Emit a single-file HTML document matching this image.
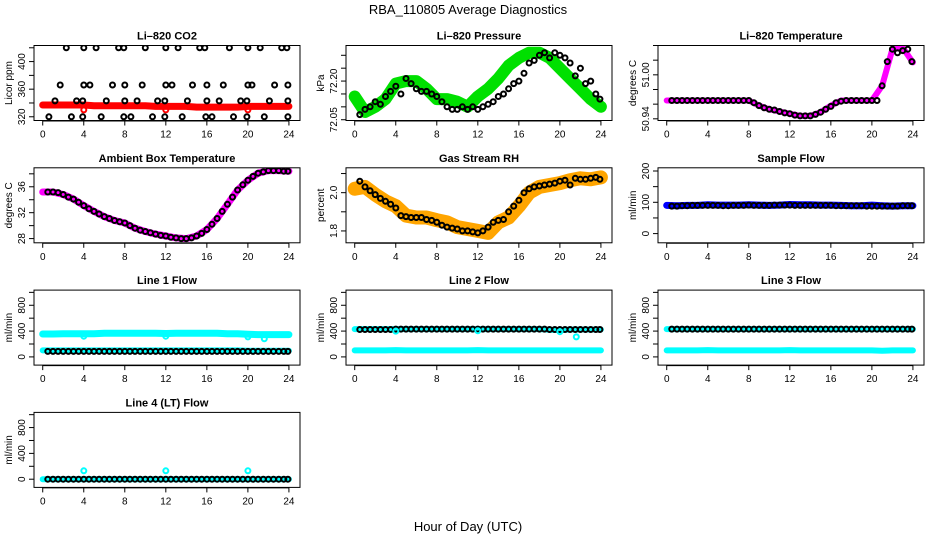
<!DOCTYPE html>
<html><head><meta charset="utf-8"><style>
html,body{margin:0;padding:0;background:#fff}
svg{display:block;font-family:"Liberation Sans",sans-serif}
</style></head><body>
<svg id="c" width="936" height="540" viewBox="0 0 936 540">
<text x="468" y="14" text-anchor="middle" font-size="13">RBA_110805  Average Diagnostics</text>
<text x="468" y="531" text-anchor="middle" font-size="13">Hour of Day (UTC)</text>
</svg>
<script>
// ---- data ----
const hours25=[0,1,2,3,4,5,6,7,8,9,10,11,12,13,14,15,16,17,18,19,20,21,22,23,24];
const hours48=[0.5,1,1.5,2,2.5,3,3.5,4,4.5,5,5.5,6,6.5,7,7.5,8,8.5,9,9.5,10,10.5,11,11.5,12,12.5,13,13.5,14,14.5,15,15.5,16,16.5,17,17.5,18,18.5,19,19.5,20,20.5,21,21.5,22,22.5,23,23.5,23.9];
const co2Band=[337,337,337,337,337,336,336,336,336,336,336,335,335,335,335,334,334,334,334,334,335,335,335,335,335];
const co2BlackHours=[2.3,4,5.2,7.4,7.9,10,12,13.2,15.3,15.8,18.2,20,21.2,23.3,23.8,1.7,4,4.6,6.8,8,9.7,12,12.6,14.6,16,17.6,20,20.4,22.6,23.9,1.2,3.3,3.9,6.2,8,9.2,11.2,11.9,14.1,16,17.2,19.3,19.9,22.1,23.9,0.6,2.8,3.9,5.7,7.9,8.6,10.7,11.9,13.6,15.9,16.5,18.6,19.9,21.6,23.9];
const co2BlackVals=[420,420,420,420,420,420,420,420,420,420,420,420,420,420,420,366,366,366,366,366,366,366,366,366,366,366,366,366,366,366,343,343,343,343,343,343,343,343,343,343,343,343,343,343,343,320,320,320,320,320,320,320,320,320,320,320,320,320,320,320];
const co2OutHours=[4,12,20];
const co2OutVals=[330,330,330];
const presBand=[72.14,72.08,72.10,72.13,72.19,72.20,72.20,72.17,72.13,72.13,72.12,72.10,72.14,72.17,72.21,72.26,72.29,72.31,72.31,72.29,72.25,72.21,72.17,72.13,72.10];
const presBlack=[72.07,72.09,72.10,72.12,72.11,72.14,72.16,72.18,72.15,72.21,72.19,72.17,72.16,72.16,72.15,72.14,72.12,72.10,72.09,72.09,72.10,72.09,72.10,72.09,72.10,72.11,72.12,72.14,72.15,72.17,72.19,72.20,72.23,72.27,72.28,72.30,72.31,72.29,72.31,72.30,72.29,72.27,72.22,72.25,72.19,72.20,72.15,72.13];
const liTempBand=[50.965,50.965,50.965,50.965,50.965,50.965,50.965,50.965,50.965,50.958,50.953,50.950,50.947,50.944,50.944,50.949,50.958,50.965,50.965,50.965,50.965,50.985,51.035,51.037,51.017];
const liTempBlack=[50.965,50.965,50.965,50.965,50.965,50.965,50.965,50.965,50.965,50.965,50.965,50.965,50.965,50.965,50.965,50.965,50.962,50.958,50.955,50.953,50.952,50.950,50.948,50.947,50.945,50.944,50.944,50.944,50.946,50.949,50.953,50.957,50.962,50.964,50.965,50.965,50.965,50.965,50.965,50.965,50.965,50.985,51.018,51.035,51.030,51.033,51.035,51.018];
const ambBand=[35.2,35.2,34.8,34.1,33.1,32.2,31.4,30.8,30.4,29.6,29.1,28.7,28.4,28.1,28.0,28.4,29.4,31.1,33.3,35.5,37.0,38.1,38.5,38.5,38.4];
const ambBlack=[35.2,35.2,35.1,34.8,34.4,34.1,33.6,33.1,32.6,32.2,31.8,31.4,31.1,30.8,30.6,30.4,30.0,29.6,29.3,29.1,28.9,28.7,28.5,28.4,28.2,28.1,28.0,28.0,28.1,28.4,28.8,29.4,30.2,31.1,32.2,33.3,34.4,35.5,36.3,37.0,37.6,38.1,38.3,38.5,38.5,38.5,38.4,38.4];
const rhBand=[2.02,2.03,1.99,1.955,1.93,1.88,1.87,1.87,1.856,1.845,1.82,1.81,1.80,1.79,1.845,1.87,1.93,2.0,2.03,2.04,2.05,2.065,2.075,2.07,2.08];
const rhBlack=[2.06,2.03,2.01,1.99,1.97,1.955,1.94,1.92,1.88,1.875,1.87,1.87,1.87,1.86,1.855,1.845,1.83,1.82,1.815,1.81,1.80,1.80,1.795,1.79,1.80,1.82,1.845,1.855,1.86,1.90,1.93,1.96,2.00,2.02,2.03,2.035,2.04,2.045,2.05,2.06,2.065,2.04,2.075,2.07,2.07,2.075,2.08,2.07];
const sfBand=[90,89,90,90,92,91,91,91,92,91,90,91,93,92,92,91,91,90,89,89,91,89,88,89,89];
const sfBlack=[88,88,89,89,90,90,90,90,90,90,89,89,90,90,90,91,90,90,90,90,91,91,91,91,90,90,90,90,90,90,90,90,89,89,89,89,89,89,88,88,88,88,88,88,88,89,89,89];
const l1Upper=[355,355,358,360,358,360,365,365,365,365,365,365,362,365,365,365,365,365,360,358,350,345,345,345,345];
const l1Lower=[100,100,100,100,100,100,100,100,100,100,100,100,100,100,100,100,100,100,100,100,95,95,95,95,95];
const l1Black=[85,85,85,85,85,85,85,85,85,85,85,85,85,85,85,85,85,85,85,85,85,85,85,85,85,85,85,85,85,85,85,85,85,85,85,85,85,85,85,85,85,85,85,85,85,85,85,85];
const l1OutHours=[4,12,20,21.6];
const l1OutVals=[320,320,310,280];
const l2Upper=[430,430,430,430,430,430,430,430,430,430,430,430,430,430,430,430,430,430,430,420,415,425,425,425,425];
const l2Lower=[100,100,100,100,105,100,100,100,100,100,100,100,105,100,100,100,100,100,100,100,100,100,100,100,100];
const l2Black=[425,425,425,425,425,425,425,430,430,430,430,430,430,430,430,430,430,430,430,430,430,430,430,430,430,430,430,430,430,430,430,430,430,430,430,430,430,425,425,425,425,425,425,425,425,425,425,425];
const l2OutHours=[4,12,20,21.6];
const l2OutVals=[400,405,390,310];
const l3Upper=[430,430,430,430,430,430,430,430,430,430,430,430,430,430,430,430,430,430,430,430,430,430,430,430,430];
const l3Lower=[100,100,100,100,105,100,100,100,100,100,100,100,105,100,100,100,100,100,100,100,100,95,100,100,100];
const l3Black=[430,430,430,430,430,430,430,430,430,430,430,430,430,430,430,430,430,430,430,430,430,430,430,430,430,430,430,430,430,430,430,430,430,430,430,430,430,430,430,430,430,430,430,430,430,430,430,430];
const l4Band=[0,0,0,0,0,0,0,0,0,0,0,0,0,0,0,0,0,0,0,0,0,0,0,0,0];
const l4Black=[0,0,0,0,0,0,0,0,0,0,0,0,0,0,0,0,0,0,0,0,0,0,0,0,0,0,0,0,0,0,0,0,0,0,0,0,0,0,0,0,0,0,0,0,0,0,0,0];
const l4OutHours=[4,12,20];
const l4OutVals=[130,130,130];
const xTicks=[0,4,8,12,16,20,24];
const flowTicks=[0,200,400,600,800,1000];
const flowLabels=[0,400,800];

// ---- drawing ----
const NS='http://www.w3.org/2000/svg';
const svg=document.getElementById('c');
const colX=[34,346,658], rowY=[45.5,167.8,290.1,412.4], W=266, H=75;
const XMIN=-0.85, XMAX=25.08;
function el(tag,attrs,parent){const e=document.createElementNS(NS,tag);for(const k in attrs)e.setAttribute(k,attrs[k]);(parent||svg).appendChild(e);return e;}
function panel(cfg){
  const g=el('g',{});
  
  
  const L=colX[cfg.col], T=rowY[cfg.row];
  const xs=h=>L+(h-XMIN)/(XMAX-XMIN)*W;
  const ys=v=>T+(cfg.dom[1]-v)/(cfg.dom[1]-cfg.dom[0])*H;
  const t=el('text',{x:L+W/2,y:T-6,'text-anchor':'middle','font-size':11,'font-weight':'bold'},g);
  t.textContent=cfg.title;
  
  
  const yl=el('text',{x:0,y:0,'text-anchor':'middle','font-size':10,transform:`translate(${L-22},${T+H/2}) rotate(-90)`},g);
  yl.textContent=cfg.ylab;
  
  
  const clipId='clip'+cfg.col+cfg.row;
  const cp=el('clipPath',{id:clipId},g);el('rect',{x:L,y:T,width:W,height:H},cp);
  const d=el('g',{'clip-path':`url(#${clipId})`},g);
  (cfg.bands||[]).forEach(b=>{
    const pts=b.h.map((h,i)=>xs(h).toFixed(1)+','+ys(b.v[i]).toFixed(1)).join(' ');
    const p=el('polyline',{points:pts,fill:'none',stroke:b.color,'stroke-width':b.w,'stroke-linejoin':'round','stroke-linecap':'round'},d);
    
    
  });
  (cfg.points||[]).forEach(s=>{
    s.h.forEach((h,i)=>{
      const c=el('circle',{cx:xs(h).toFixed(1),cy:ys(s.v[i]).toFixed(1),r:2.5,fill:'none',stroke:s.color,'stroke-width':2},d);
      
      
    });
  });
  const box=el('rect',{x:L,y:T,width:W,height:H,fill:'none',stroke:'#000','stroke-width':1},g);
  
  
  xTicks.forEach(h=>{
    el('line',{x1:xs(h),x2:xs(h),y1:T+H,y2:T+H+5,stroke:'#000'},g);
    const tx=el('text',{x:xs(h),y:T+H+17,'text-anchor':'middle','font-size':10},g);
    tx.textContent=h;
    
    
  });
  el('line',{x1:xs(0),x2:xs(24),y1:T+H+0.5,y2:T+H+0.5,stroke:'#000'},g);
  cfg.yticks.forEach(v=>{el('line',{x1:L-5,x2:L,y1:ys(v),y2:ys(v),stroke:'#000'},g);});
  cfg.ylabels.forEach(v=>{
    const ty=el('text',{x:0,y:0,'text-anchor':'middle','font-size':10,transform:`translate(${L-9},${ys(v)}) rotate(-90)`},g);
    ty.textContent=cfg.fmt?cfg.fmt(v):v;
    
    
  });
}
panel({name:'li820-co2-panel',col:0,row:0,title:'Li–820 CO2',ylab:'Licor ppm',dom:[314.6,423.3],yticks:[320,340,360,380,400,420],ylabels:[320,360,400],
  bands:[{h:hours25,v:co2Band,color:'#ff0000',w:7}],
  points:[{h:co2BlackHours,v:co2BlackVals,color:'#000'},{h:co2OutHours,v:co2OutVals,color:'#ff0000'}]});
panel({name:'li820-pressure-panel',col:1,row:0,title:'Li–820 Pressure',ylab:'kPa',dom:[72.047,72.338],yticks:[72.05,72.10,72.15,72.20,72.25,72.30],ylabels:[72.05,72.20],fmt:v=>v.toFixed(2),
  bands:[{h:hours25,v:presBand,color:'#00e000',w:12}],
  points:[{h:hours48,v:presBlack,color:'#000'}]});
panel({name:'li820-temperature-panel',col:2,row:0,title:'Li–820 Temperature',ylab:'degrees C',dom:[50.9377,51.04],yticks:[50.94,50.96,50.98,51.00,51.02,51.04],ylabels:[50.94,51.00],fmt:v=>v.toFixed(2),
  bands:[{h:hours25,v:liTempBand,color:'#ff00ff',w:6}],
  points:[{h:hours48,v:liTempBlack,color:'#000'}]});
panel({name:'ambient-box-temperature-panel',col:0,row:1,title:'Ambient Box Temperature',ylab:'degrees C',dom:[27.35,38.93],yticks:[28,30,32,34,36,38],ylabels:[28,32,36],
  bands:[{h:hours25,v:ambBand,color:'#ff00ff',w:7}],
  points:[{h:hours48,v:ambBlack,color:'#000'}]});
panel({name:'gas-stream-rh-panel',col:1,row:1,title:'Gas Stream RH',ylab:'percent',dom:[1.738,2.130],yticks:[1.8,1.9,2.0,2.1],ylabels:[1.8,2.0],fmt:v=>v.toFixed(1),
  bands:[{h:hours25,v:rhBand,color:'#ffa500',w:14}],
  points:[{h:hours48,v:rhBlack,color:'#000'}]});
panel({name:'sample-flow-panel',col:2,row:1,title:'Sample Flow',ylab:'ml/min',dom:[-29.4,210.2],yticks:[0,50,100,150,200],ylabels:[0,100,200],
  bands:[{h:hours25,v:sfBand,color:'#0000ff',w:7}],
  points:[{h:hours48,v:sfBlack,color:'#000'}]});
panel({name:'line1-flow-panel',col:0,row:2,title:'Line 1 Flow',ylab:'ml/min',dom:[-127,1035],yticks:flowTicks,ylabels:flowLabels,
  bands:[{h:hours25,v:l1Upper,color:'#00ffff',w:7},{h:hours25,v:l1Lower,color:'#00ffff',w:6}],
  points:[{h:hours48,v:l1Black,color:'#000'},{h:l1OutHours,v:l1OutVals,color:'#00ffff'}]});
panel({name:'line2-flow-panel',col:1,row:2,title:'Line 2 Flow',ylab:'ml/min',dom:[-127,1035],yticks:flowTicks,ylabels:flowLabels,
  bands:[{h:hours25,v:l2Upper,color:'#00ffff',w:6},{h:hours25,v:l2Lower,color:'#00ffff',w:6}],
  points:[{h:hours48,v:l2Black,color:'#000'},{h:l2OutHours,v:l2OutVals,color:'#00ffff'}]});
panel({name:'line3-flow-panel',col:2,row:2,title:'Line 3 Flow',ylab:'ml/min',dom:[-127,1035],yticks:flowTicks,ylabels:flowLabels,
  bands:[{h:hours25,v:l3Upper,color:'#00ffff',w:6},{h:hours25,v:l3Lower,color:'#00ffff',w:6}],
  points:[{h:hours48,v:l3Black,color:'#000'}]});
panel({name:'line4-lt-flow-panel',col:0,row:3,title:'Line 4 (LT) Flow',ylab:'ml/min',dom:[-127,1035],yticks:flowTicks,ylabels:flowLabels,
  bands:[{h:hours25,v:l4Band,color:'#00ffff',w:6}],
  points:[{h:hours48,v:l4Black,color:'#000'},{h:l4OutHours,v:l4OutVals,color:'#00ffff'}]});
</script>
</body></html>
